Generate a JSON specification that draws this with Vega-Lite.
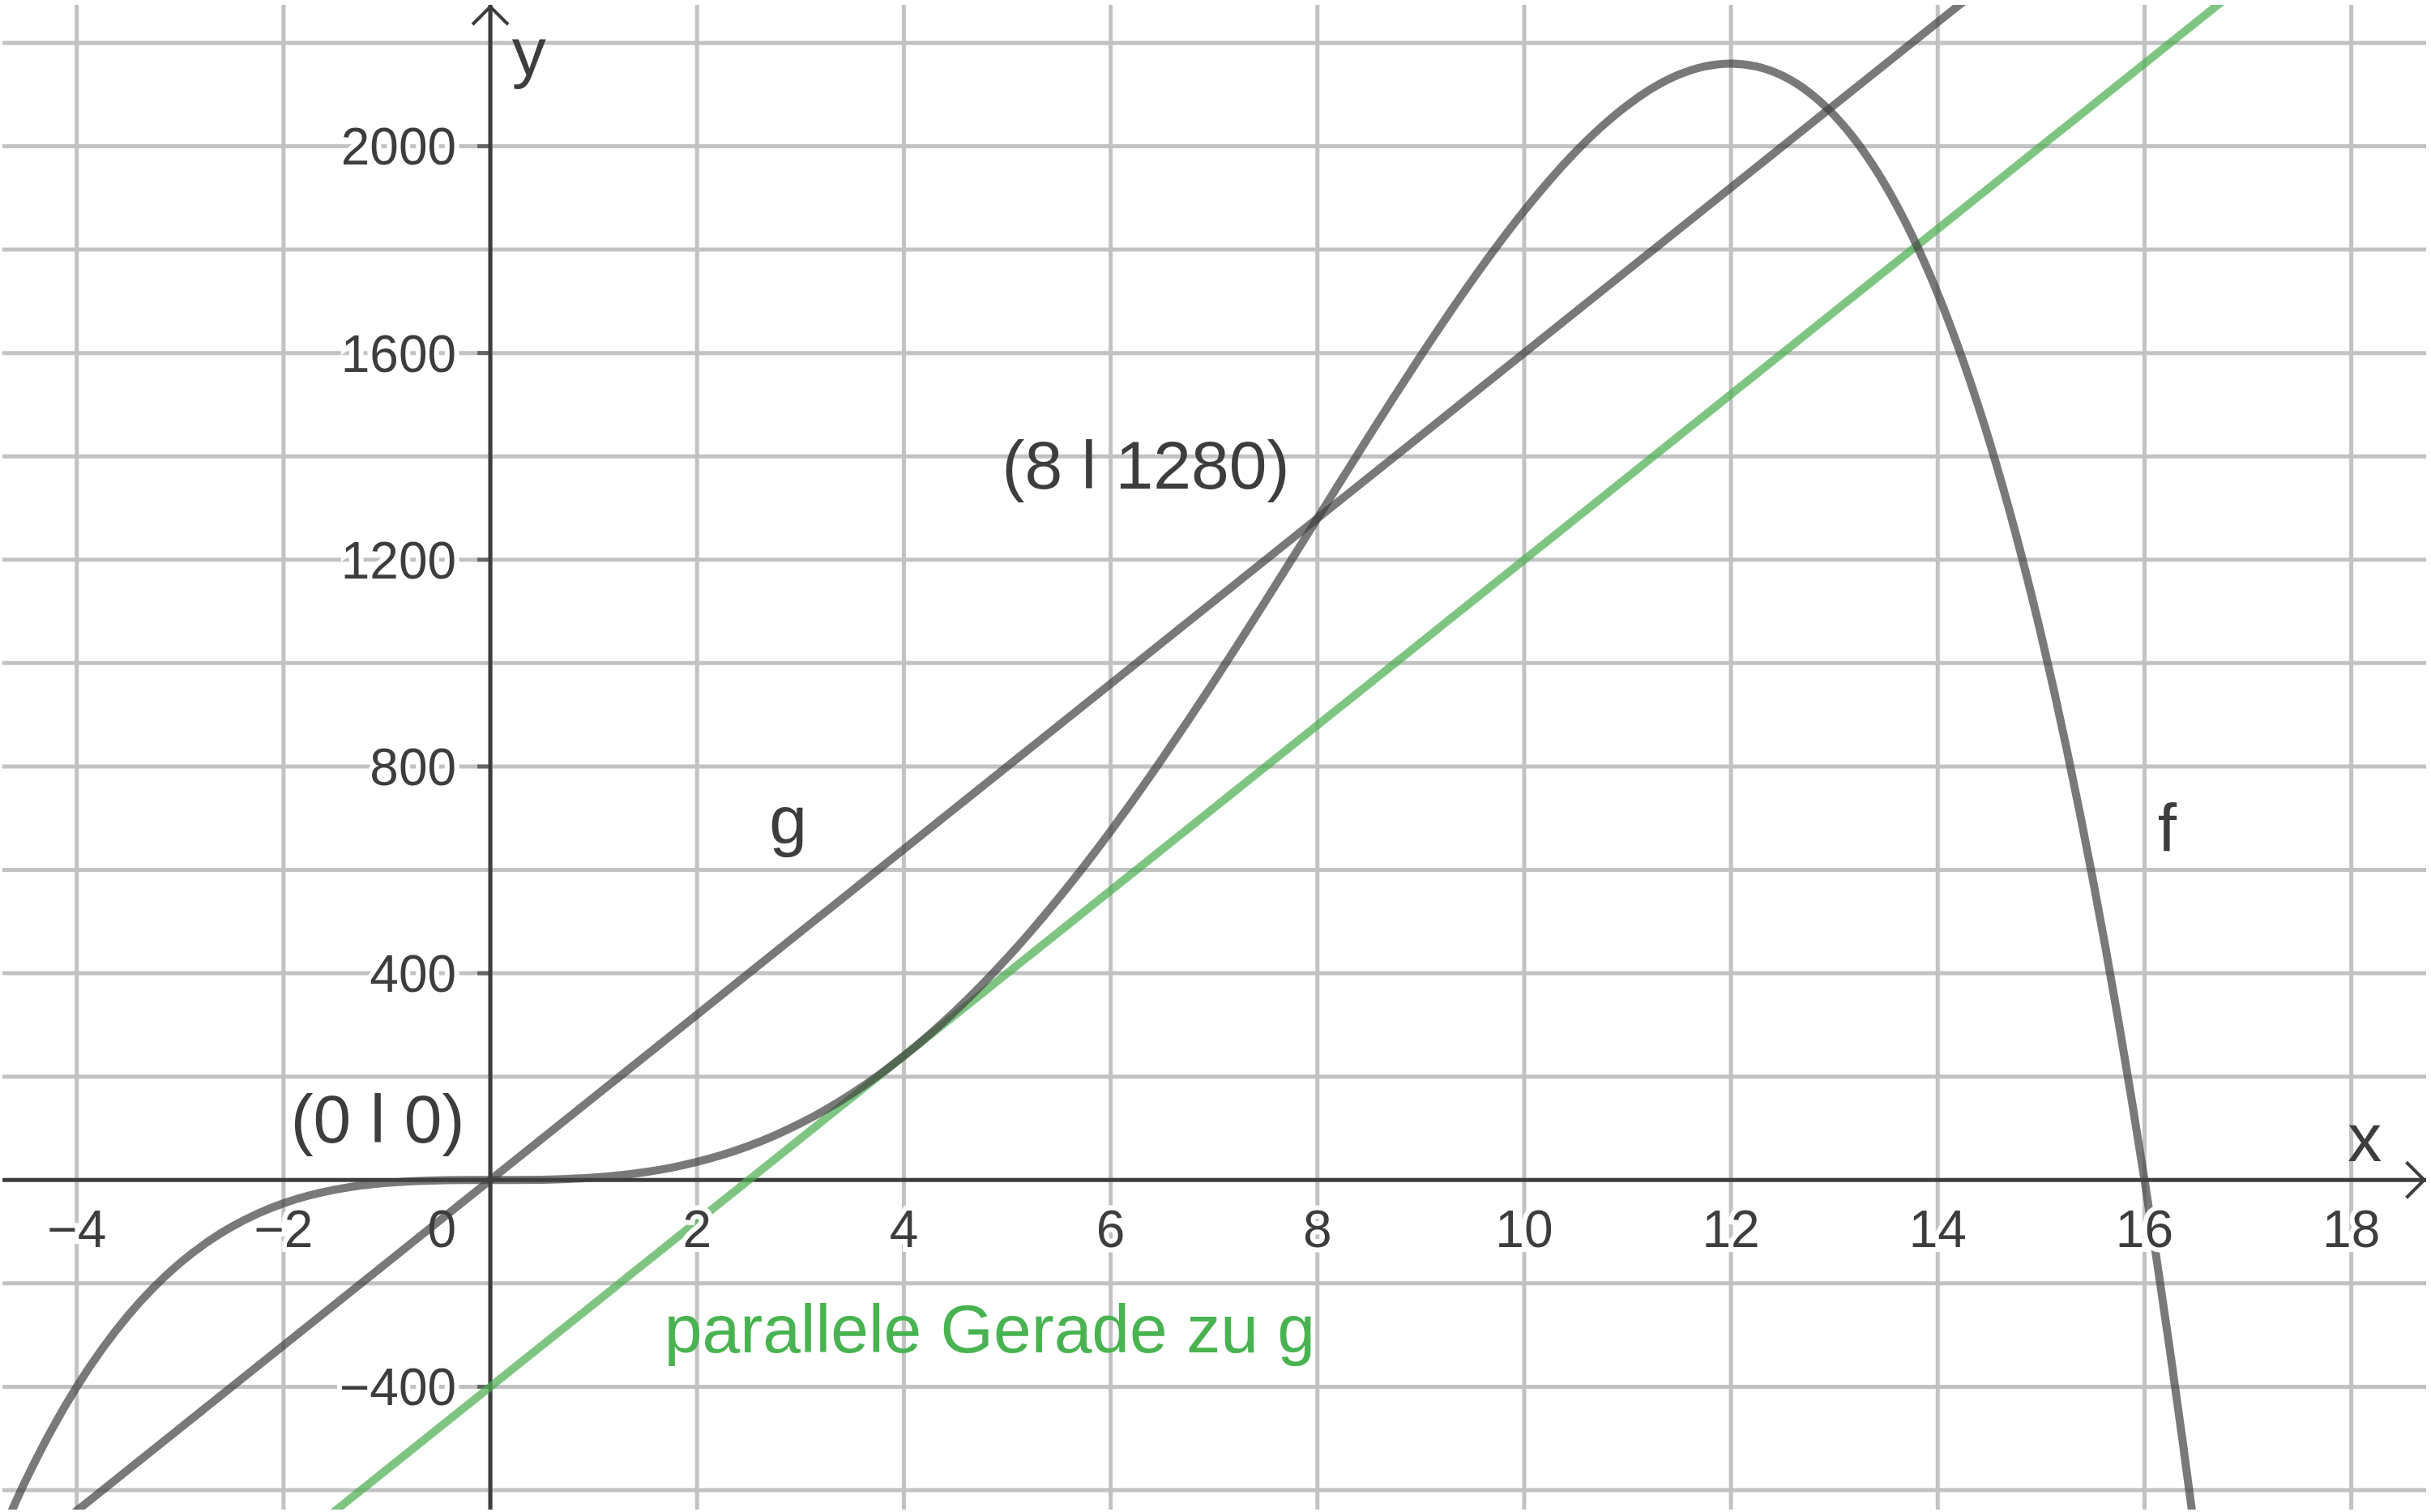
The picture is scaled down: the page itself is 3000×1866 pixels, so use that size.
{
  "$schema": "https://vega.github.io/schema/vega-lite/v6.json",
  "width": 3000,
  "height": 1866,
  "autosize": {"type": "fit", "contains": "padding"},
  "padding": 0,
  "background": "white",
  "config": {"view": {"stroke": null}, "text": {"font": "Liberation Sans"}},
  "datasets": {
    "f": [
      {"x": -4.75, "y": -694.94}, {"x": -4.5, "y": -583.77}, {"x": -4.25, "y": -485.78}, {"x": -4, "y": -400},
      {"x": -3.75, "y": -325.47}, {"x": -3.5, "y": -261.27}, {"x": -3.25, "y": -206.51}, {"x": -3, "y": -160.31},
      {"x": -2.75, "y": -121.86}, {"x": -2.5, "y": -90.33}, {"x": -2.25, "y": -64.96}, {"x": -2, "y": -45},
      {"x": -1.75, "y": -29.73}, {"x": -1.5, "y": -18.46}, {"x": -1.25, "y": -10.53}, {"x": -1, "y": -5.31},
      {"x": -0.75, "y": -2.21}, {"x": -0.5, "y": -0.64}, {"x": -0.25, "y": -0.08}, {"x": 0, "y": 0},
      {"x": 0.25, "y": 0.08}, {"x": 0.5, "y": 0.61}, {"x": 0.75, "y": 2.01}, {"x": 1, "y": 4.69},
      {"x": 1.25, "y": 9.0}, {"x": 1.5, "y": 15.29}, {"x": 1.75, "y": 23.87}, {"x": 2, "y": 35},
      {"x": 2.25, "y": 48.94}, {"x": 2.5, "y": 65.92}, {"x": 2.75, "y": 86.11}, {"x": 3, "y": 109.69},
      {"x": 3.25, "y": 136.78}, {"x": 3.5, "y": 167.48}, {"x": 3.75, "y": 201.87}, {"x": 4, "y": 240},
      {"x": 4.25, "y": 281.87}, {"x": 4.5, "y": 327.48}, {"x": 4.75, "y": 376.78}, {"x": 5, "y": 429.69},
      {"x": 5.25, "y": 486.11}, {"x": 5.5, "y": 545.92}, {"x": 5.75, "y": 608.94}, {"x": 6, "y": 675},
      {"x": 6.25, "y": 743.87}, {"x": 6.5, "y": 815.29}, {"x": 6.75, "y": 889.0}, {"x": 7, "y": 964.69},
      {"x": 7.25, "y": 1042.01}, {"x": 7.5, "y": 1120.61}, {"x": 7.75, "y": 1200.08}, {"x": 8, "y": 1280},
      {"x": 8.25, "y": 1359.92}, {"x": 8.5, "y": 1439.36}, {"x": 8.75, "y": 1517.79}, {"x": 9, "y": 1594.69},
      {"x": 9.25, "y": 1669.47}, {"x": 9.5, "y": 1741.54}, {"x": 9.75, "y": 1810.27}, {"x": 10, "y": 1875},
      {"x": 10.25, "y": 1935.04}, {"x": 10.5, "y": 1989.67}, {"x": 10.75, "y": 2038.14}, {"x": 11, "y": 2079.69},
      {"x": 11.25, "y": 2113.5}, {"x": 11.5, "y": 2138.73}, {"x": 11.75, "y": 2154.53}, {"x": 12, "y": 2160},
      {"x": 12.25, "y": 2154.22}, {"x": 12.5, "y": 2136.23}, {"x": 12.75, "y": 2105.06}, {"x": 13, "y": 2059.69},
      {"x": 13.25, "y": 1999.08}, {"x": 13.5, "y": 1922.17}, {"x": 13.75, "y": 1827.85}, {"x": 14, "y": 1715},
      {"x": 14.25, "y": 1582.46}, {"x": 14.5, "y": 1429.04}, {"x": 14.75, "y": 1253.53}, {"x": 15, "y": 1054.69},
      {"x": 15.125, "y": 946.12}, {"x": 15.25, "y": 831.23}, {"x": 15.375, "y": 709.86}, {"x": 15.5, "y": 581.86},
      {"x": 15.625, "y": 447.03}, {"x": 15.75, "y": 305.23}, {"x": 15.875, "y": 156.28}, {"x": 16, "y": 0},
      {"x": 16.125, "y": -163.78}, {"x": 16.25, "y": -335.2}, {"x": 16.375, "y": -514.56}, {"x": 16.5, "y": -701.9},
      {"x": 16.625, "y": -897.46}
    ],
    "g": [{"x": -4.8, "y": -768}, {"x": 18.8, "y": 3008}],
    "p": [{"x": -4.8, "y": -1168}, {"x": 18.8, "y": 2608}],
    "xgrid": [{"v": -4}, {"v": -2}, {"v": 0}, {"v": 2}, {"v": 4}, {"v": 6}, {"v": 8}, {"v": 10}, {"v": 12}, {"v": 14}, {"v": 16}, {"v": 18}],
    "ygrid": [{"v": -600}, {"v": -400}, {"v": -200}, {"v": 200}, {"v": 400}, {"v": 600}, {"v": 800}, {"v": 1000}, {"v": 1200}, {"v": 1400}, {"v": 1600}, {"v": 1800}, {"v": 2000}, {"v": 2200}],
    "xt": [{"v": -4, "t": "−4"}, {"v": -2, "t": "−2"}, {"v": 2, "t": "2"}, {"v": 4, "t": "4"}, {"v": 6, "t": "6"}, {"v": 8, "t": "8"}, {"v": 10, "t": "10"}, {"v": 12, "t": "12"}, {"v": 14, "t": "14"}, {"v": 16, "t": "16"}, {"v": 18, "t": "18"}],
    "yt": [{"v": -400, "t": "−400"}, {"v": 400, "t": "400"}, {"v": 800, "t": "800"}, {"v": 1200, "t": "1200"}, {"v": 1600, "t": "1600"}, {"v": 2000, "t": "2000"}]
  },
  "layer": [
    {
      "data": {"name": "xgrid"},
      "mark": {"type": "rule", "color": "#c2c2c2", "strokeWidth": 5},
      "encoding": {"x": {"field": "v", "type": "quantitative", "scale": {"domain": [-4.719, 18.724], "nice": false, "zero": false}, "axis": null}}
    },
    {
      "data": {"name": "ygrid"},
      "mark": {"type": "rule", "color": "#c2c2c2", "strokeWidth": 5},
      "encoding": {"y": {"field": "v", "type": "quantitative", "scale": {"domain": [-637.6, 2273.5], "nice": false, "zero": false}, "axis": null}}
    },
    {
      "data": {"values": [{}]},
      "mark": {"type": "rule", "color": "#3d3d3d", "strokeWidth": 5},
      "encoding": {"x": {"datum": 0, "type": "quantitative", "scale": {"domain": [-4.719, 18.724], "nice": false, "zero": false}, "axis": null}}
    },
    {
      "data": {"values": [{}]},
      "mark": {"type": "rule", "color": "#3d3d3d", "strokeWidth": 5},
      "encoding": {"y": {"datum": 0, "type": "quantitative", "scale": {"domain": [-637.6, 2273.5], "nice": false, "zero": false}, "axis": null}}
    },
    {
      "data": {"name": "yt"},
      "mark": {"type": "tick", "orient": "horizontal", "color": "#3d3d3d", "size": 16, "thickness": 5, "xOffset": -8},
      "encoding": {
        "x": {"datum": 0, "type": "quantitative", "scale": {"domain": [-4.719, 18.724], "nice": false, "zero": false}, "axis": null},
        "y": {"field": "v", "type": "quantitative", "scale": {"domain": [-637.6, 2273.5], "nice": false, "zero": false}, "axis": null}
      }
    },
    {
      "data": {"values": [{}]},
      "mark": {"type": "point", "shape": "M-1,-1L0,0L-1,1", "size": 1936, "filled": false, "stroke": "#3d3d3d", "strokeWidth": 4, "opacity": 1},
      "encoding": {
        "x": {"datum": 18.705, "type": "quantitative", "scale": {"domain": [-4.719, 18.724], "nice": false, "zero": false}, "axis": null},
        "y": {"datum": 0, "type": "quantitative", "scale": {"domain": [-637.6, 2273.5], "nice": false, "zero": false}, "axis": null}
      }
    },
    {
      "data": {"values": [{}]},
      "mark": {"type": "point", "shape": "M-1,1L0,0L1,1", "size": 1936, "filled": false, "stroke": "#3d3d3d", "strokeWidth": 4, "opacity": 1},
      "encoding": {
        "x": {"datum": 0, "type": "quantitative", "scale": {"domain": [-4.719, 18.724], "nice": false, "zero": false}, "axis": null},
        "y": {"datum": 2270, "type": "quantitative", "scale": {"domain": [-637.6, 2273.5], "nice": false, "zero": false}, "axis": null}
      }
    },
    {
      "data": {"name": "p"},
      "mark": {"type": "line", "color": "#4caf50", "opacity": 0.72, "strokeWidth": 10, "clip": true},
      "encoding": {
        "x": {"field": "x", "type": "quantitative", "scale": {"domain": [-4.719, 18.724], "nice": false, "zero": false}, "axis": null},
        "y": {"field": "y", "type": "quantitative", "scale": {"domain": [-637.6, 2273.5], "nice": false, "zero": false}, "axis": null}
      }
    },
    {
      "data": {"name": "g"},
      "mark": {"type": "line", "color": "#404040", "opacity": 0.7, "strokeWidth": 10, "clip": true},
      "encoding": {
        "x": {"field": "x", "type": "quantitative", "scale": {"domain": [-4.719, 18.724], "nice": false, "zero": false}, "axis": null},
        "y": {"field": "y", "type": "quantitative", "scale": {"domain": [-637.6, 2273.5], "nice": false, "zero": false}, "axis": null}
      }
    },
    {
      "data": {"name": "f"},
      "mark": {"type": "line", "color": "#404040", "opacity": 0.7, "strokeWidth": 10, "clip": true, "interpolate": "monotone"},
      "encoding": {
        "x": {"field": "x", "type": "quantitative", "scale": {"domain": [-4.719, 18.724], "nice": false, "zero": false}, "axis": null},
        "y": {"field": "y", "type": "quantitative", "scale": {"domain": [-637.6, 2273.5], "nice": false, "zero": false}, "axis": null}
      }
    },
    {
      "data": {"name": "xt"},
      "mark": {"type": "text", "fontSize": 64, "align": "center", "baseline": "alphabetic", "dy": 83, "color": "white", "stroke": "white", "strokeWidth": 12},
      "encoding": {
        "x": {"field": "v", "type": "quantitative", "scale": {"domain": [-4.719, 18.724], "nice": false, "zero": false}, "axis": null},
        "y": {"datum": 0, "type": "quantitative", "scale": {"domain": [-637.6, 2273.5], "nice": false, "zero": false}, "axis": null},
        "text": {"field": "t"}
      }
    },
    {
      "data": {"name": "xt"},
      "mark": {"type": "text", "fontSize": 64, "align": "center", "baseline": "alphabetic", "dy": 83, "color": "#3d3d3d"},
      "encoding": {
        "x": {"field": "v", "type": "quantitative", "scale": {"domain": [-4.719, 18.724], "nice": false, "zero": false}, "axis": null},
        "y": {"datum": 0, "type": "quantitative", "scale": {"domain": [-637.6, 2273.5], "nice": false, "zero": false}, "axis": null},
        "text": {"field": "t"}
      }
    },
    {
      "data": {"name": "yt"},
      "mark": {"type": "text", "fontSize": 64, "align": "right", "baseline": "alphabetic", "dx": -42, "dy": 23, "color": "white", "stroke": "white", "strokeWidth": 12},
      "encoding": {
        "x": {"datum": 0, "type": "quantitative", "scale": {"domain": [-4.719, 18.724], "nice": false, "zero": false}, "axis": null},
        "y": {"field": "v", "type": "quantitative", "scale": {"domain": [-637.6, 2273.5], "nice": false, "zero": false}, "axis": null},
        "text": {"field": "t"}
      }
    },
    {
      "data": {"name": "yt"},
      "mark": {"type": "text", "fontSize": 64, "align": "right", "baseline": "alphabetic", "dx": -42, "dy": 23, "color": "#3d3d3d"},
      "encoding": {
        "x": {"datum": 0, "type": "quantitative", "scale": {"domain": [-4.719, 18.724], "nice": false, "zero": false}, "axis": null},
        "y": {"field": "v", "type": "quantitative", "scale": {"domain": [-637.6, 2273.5], "nice": false, "zero": false}, "axis": null},
        "text": {"field": "t"}
      }
    },
    {
      "data": {"values": [{}]},
      "mark": {"type": "text", "text": "0", "fontSize": 64, "align": "right", "baseline": "alphabetic", "dx": -42, "dy": 83, "color": "#3d3d3d"},
      "encoding": {
        "x": {"datum": 0, "type": "quantitative", "scale": {"domain": [-4.719, 18.724], "nice": false, "zero": false}, "axis": null},
        "y": {"datum": 0, "type": "quantitative", "scale": {"domain": [-637.6, 2273.5], "nice": false, "zero": false}, "axis": null}
      }
    },
    {
      "data": {"values": [{}]},
      "mark": {"type": "text", "text": "(8 l 1280)", "fontSize": 84, "align": "center", "baseline": "alphabetic", "color": "#3d3d3d"},
      "encoding": {
        "x": {"datum": 6.34, "type": "quantitative", "scale": {"domain": [-4.719, 18.724], "nice": false, "zero": false}, "axis": null},
        "y": {"datum": 1337, "type": "quantitative", "scale": {"domain": [-637.6, 2273.5], "nice": false, "zero": false}, "axis": null}
      }
    },
    {
      "data": {"values": [{}]},
      "mark": {"type": "text", "text": "(0 l 0)", "fontSize": 84, "align": "center", "baseline": "alphabetic", "color": "#3d3d3d"},
      "encoding": {
        "x": {"datum": -1.09, "type": "quantitative", "scale": {"domain": [-4.719, 18.724], "nice": false, "zero": false}, "axis": null},
        "y": {"datum": 72, "type": "quantitative", "scale": {"domain": [-637.6, 2273.5], "nice": false, "zero": false}, "axis": null}
      }
    },
    {
      "data": {"values": [{}]},
      "mark": {"type": "text", "text": "g", "fontSize": 84, "align": "center", "baseline": "alphabetic", "color": "#3d3d3d"},
      "encoding": {
        "x": {"datum": 2.88, "type": "quantitative", "scale": {"domain": [-4.719, 18.724], "nice": false, "zero": false}, "axis": null},
        "y": {"datum": 651, "type": "quantitative", "scale": {"domain": [-637.6, 2273.5], "nice": false, "zero": false}, "axis": null}
      }
    },
    {
      "data": {"values": [{}]},
      "mark": {"type": "text", "text": "f", "fontSize": 84, "align": "center", "baseline": "alphabetic", "color": "#3d3d3d"},
      "encoding": {
        "x": {"datum": 16.22, "type": "quantitative", "scale": {"domain": [-4.719, 18.724], "nice": false, "zero": false}, "axis": null},
        "y": {"datum": 636, "type": "quantitative", "scale": {"domain": [-637.6, 2273.5], "nice": false, "zero": false}, "axis": null}
      }
    },
    {
      "data": {"values": [{}]},
      "mark": {"type": "text", "text": "x", "fontSize": 84, "align": "center", "baseline": "alphabetic", "color": "#3d3d3d"},
      "encoding": {
        "x": {"datum": 18.13, "type": "quantitative", "scale": {"domain": [-4.719, 18.724], "nice": false, "zero": false}, "axis": null},
        "y": {"datum": 36, "type": "quantitative", "scale": {"domain": [-637.6, 2273.5], "nice": false, "zero": false}, "axis": null}
      }
    },
    {
      "data": {"values": [{}]},
      "mark": {"type": "text", "text": "y", "fontSize": 84, "align": "center", "baseline": "alphabetic", "color": "#3d3d3d"},
      "encoding": {
        "x": {"datum": 0.374, "type": "quantitative", "scale": {"domain": [-4.719, 18.724], "nice": false, "zero": false}, "axis": null},
        "y": {"datum": 2137, "type": "quantitative", "scale": {"domain": [-637.6, 2273.5], "nice": false, "zero": false}, "axis": null}
      }
    },
    {
      "data": {"values": [{}]},
      "mark": {"type": "text", "text": "parallele Gerade zu g", "fontSize": 84, "align": "center", "baseline": "alphabetic", "color": "#48b350"},
      "encoding": {
        "x": {"datum": 4.83, "type": "quantitative", "scale": {"domain": [-4.719, 18.724], "nice": false, "zero": false}, "axis": null},
        "y": {"datum": -334, "type": "quantitative", "scale": {"domain": [-637.6, 2273.5], "nice": false, "zero": false}, "axis": null}
      }
    }
  ]
}
